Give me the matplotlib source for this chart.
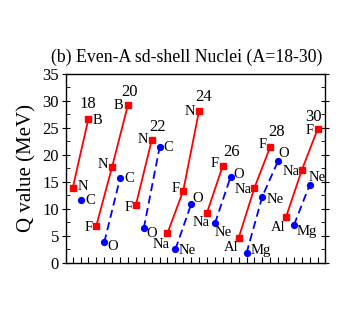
import numpy as np
import matplotlib.pyplot as plt
from matplotlib.ticker import MultipleLocator

plt.rcParams['font.family'] = ['Liberation Serif', 'DejaVu Serif']

# -----------------------------
# Dados
# -----------------------------
mass_numbers = [18, 20, 22, 24, 26, 28, 30]
group_sizes = [3, 5, 4, 5, 4, 6, 5]

nuclei = ["N", "C", "B",
          "F", "O", "N", "C", "B",
          "F", "O", "N", "C",
          "Na", "Ne", "F", "O", "N",
          "Na", "Ne", "F", "O",
          "Al", "Mg", "Na", "Ne", "F", "O",
          "Al", "Mg", "Na", "Ne", "F"]

q_values = [13.8, 11.7, 26.7,
            6.9, 3.8, 17.8, 15.7, 29.3,
            10.7, 6.4, 22.7, 21.4,
            5.5, 2.5, 13.4, 10.9, 28.2,
            9.3, 7.3, 18.0, 16.0,
            4.6, 1.8, 13.9, 12.3, 21.5, 18.9,
            8.5, 7.0, 17.2, 14.5, 24.8]

# r = serie vermelha (quadrados), b = serie azul (circulos)
series = ["r", "b", "r",
          "r", "b", "r", "b", "r",
          "r", "b", "r", "b",
          "r", "b", "r", "b", "r",
          "r", "b", "r", "b",
          "r", "b", "r", "b", "r", "b",
          "r", "b", "r", "b", "r"]

# deslocamento dos rotulos (pixels)
label_off = [(10, 2), (10, -1), (9, -2),
             (-8, -2), (8, -4), (-9, 2), (9, 0), (-9, -1),
             (-7, -2), (8, -5), (-9, 1), (9, 0),
             (-6, -11), (12, -1), (-8, 2), (7, 6), (-9, -1),
             (-6, -10), (8, -9), (-8, 2), (8, 2),
             (-7, -9), (14, 3), (-11, -2), (13, -3), (-8, 2), (6, 7),
             (-8, -10), (13, -6), (-11, -1), (7, 7), (-8, -1)]
mass_off = [(-1, 15), (2, 13), (6, 13), (4, 14), (9, 14), (6, 15), (-4, 12)]

# -----------------------------
# Figura
# -----------------------------
fig = plt.figure(figsize=(3.38, 3.16), dpi=100)
ax = fig.add_axes([0.195, 0.168, 0.767, 0.598])

x_all = np.arange(len(q_values))
q_all = np.array(q_values)
ser = np.array(series)

start = 0
for g, n in enumerate(group_sizes):
    idx = np.arange(start, start + n)
    red = idx[ser[idx] == "r"]
    blue = idx[ser[idx] == "b"]
    ax.plot(x_all[red], q_all[red], "-", color="red", lw=1.3,
            marker="s", ms=3.8, mec="red", mfc="red")
    ax.plot(x_all[blue], q_all[blue], color="blue", lw=1.3,
            linestyle=(0, (4.5, 2.5)), marker="o", ms=4.2, mec="blue", mfc="blue")
    # rotulo A acima do ponto vermelho mais alto
    top = red[np.argmax(q_all[red])]
    ax.annotate(str(mass_numbers[g]), (x_all[top], q_all[top]),
                xytext=mass_off[g], textcoords="offset pixels",
                ha="center", va="center", fontsize=12)
    start += n

for i, name in enumerate(nuclei):
    ax.annotate(name, (x_all[i], q_all[i]), xytext=label_off[i],
                textcoords="offset pixels", ha="center", va="center", fontsize=10.5)

ax.set_xlim(-0.85, 31.95)
ax.set_ylim(0, 35)
ax.set_xticks(x_all)
ax.set_xticklabels([])
ax.yaxis.set_major_locator(MultipleLocator(5))
ax.yaxis.set_minor_locator(MultipleLocator(2.5))
ax.tick_params(axis="x", which="both", direction="in", length=4, top=False)
ax.tick_params(axis="y", which="major", direction="inout", length=6, right=True,
               labelsize=12, pad=2)
ax.tick_params(axis="y", which="minor", direction="in", length=3, right=True)
for s in ax.spines.values():
    s.set_linewidth(1.0)

ax.set_ylabel("Q value (MeV)", fontsize=15, labelpad=4)
fig.text(0.552, 0.818, "(b) Even-A sd-shell Nuclei (A=18-30)", fontsize=12.8,
         ha="center", va="center")

fig.savefig("out.png", dpi=100)
